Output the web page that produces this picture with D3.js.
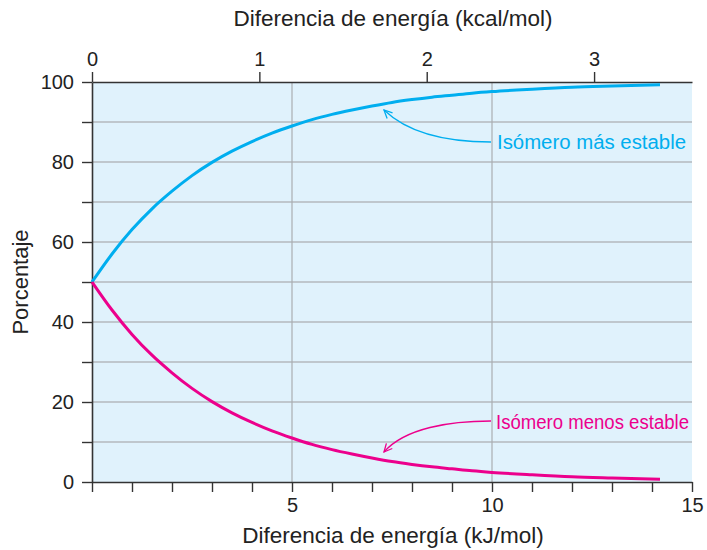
<!DOCTYPE html>
<html>
<head>
<meta charset="utf-8">
<script src="https://cdn.jsdelivr.net/npm/d3@7"></script>
<style>
  html, body { margin: 0; padding: 0; background: #ffffff; }
  svg { display: block; font-family: "Liberation Sans", Arial, sans-serif; }
</style>
</head>
<body>
<svg id="chart" width="707" height="550"></svg>
<script>
// ---- data ----
const energyKJ = [0, 0.5, 1, 1.5, 2, 2.5, 3, 3.5, 4, 4.5, 5, 5.5, 6, 6.5, 7, 7.5, 8, 8.5, 9, 9.5, 10, 11, 12, 13, 14.2];
const masEstable = [50, 57.0, 63.1, 68.3, 72.7, 76.6, 79.9, 82.7, 85.1, 87.2, 89.0, 90.6, 91.9, 93.0, 94.0, 94.9, 95.6, 96.2, 96.7, 97.2, 97.6, 98.2, 98.7, 99.0, 99.3];
const menosEstable = [50, 43.0, 36.9, 31.7, 27.3, 23.4, 20.1, 17.3, 14.9, 12.8, 11.0, 9.4, 8.1, 7.0, 6.0, 5.1, 4.4, 3.8, 3.3, 2.8, 2.4, 1.8, 1.3, 1.0, 0.7];
const kJTicks = [0, 1, 2, 3, 4, 5, 6, 7, 8, 9, 10, 11, 12, 13, 14, 15];
const kJLabels = [5, 10, 15];
const kcalTicks = [0, 1, 2, 3];
const pctTicks = [0, 10, 20, 30, 40, 50, 60, 70, 80, 90, 100];
const pctLabels = [0, 20, 40, 60, 80, 100];
const vGrid = [5, 10];
const kJperKcal = 4.184;
const seriesNames = ["Isómero más estable", "Isómero menos estable"];
const titleTop = "Diferencia de energía (kcal/mol)";
const titleBottom = "Diferencia de energía (kJ/mol)";
const titleLeft = "Porcentaje";

// ---- layout ----
const L = 92, R = 692, T = 82, B = 482;
const BLUE = "#00aeef", PINK = "#ec008c";

const svg = d3.select("#chart");
const x = d3.scaleLinear().domain([0, 15]).range([L, R]);
const xk = d3.scaleLinear().domain([0, 15 / kJperKcal]).range([L, R]);
const y = d3.scaleLinear().domain([0, 100]).range([B, T]);

// background
svg.append("rect").attr("x", L).attr("y", T).attr("width", R - L).attr("height", B - T)
  .attr("fill", "#e0f2fc");

// horizontal gridlines
svg.append("g").selectAll("line").data(pctTicks.filter(d => d > 0 && d < 100)).join("line")
  .attr("x1", L).attr("x2", R).attr("y1", d => y(d)).attr("y2", d => y(d))
  .attr("stroke", "#b4b9be").attr("stroke-width", 1.6);

// vertical gridlines
svg.append("g").selectAll("line").data(vGrid).join("line")
  .attr("x1", d => x(d)).attr("x2", d => x(d)).attr("y1", T).attr("y2", B)
  .attr("stroke", "#a9adb1").attr("stroke-width", 1.2);

// axes
const axisStyle = g => {
  g.selectAll(".domain").attr("stroke", "#333").attr("stroke-width", 1.6);
  g.selectAll(".tick line").attr("stroke", "#333").attr("stroke-width", 1.4);
  g.selectAll(".tick text").attr("fill", "#222").style("font-size", "20px")
    .style("font-family", "'Liberation Sans', Arial, sans-serif");
};

svg.append("g").attr("transform", `translate(0,${B})`)
  .call(d3.axisBottom(x).tickValues(kJTicks).tickSize(10).tickSizeOuter(0).tickPadding(6)
    .tickFormat(d => kJLabels.includes(d) ? d : ""))
  .call(axisStyle);

svg.append("g").attr("transform", `translate(0,${T})`)
  .call(d3.axisTop(xk).tickValues(kcalTicks).tickSize(10).tickSizeOuter(0).tickPadding(6)
    .tickFormat(d3.format("d")))
  .call(axisStyle);

svg.append("g").attr("transform", `translate(${L},0)`)
  .call(d3.axisLeft(y).tickValues(pctTicks).tickSize(10).tickSizeOuter(0).tickPadding(8)
    .tickFormat(d => pctLabels.includes(d) ? d : ""))
  .call(axisStyle);

// curves
const pts = vals => energyKJ.map((e, i) => [e, vals[i]]);
const line = d3.line().x(d => x(d[0])).y(d => y(d[1])).curve(d3.curveMonotoneX);
svg.append("path").attr("d", line(pts(masEstable))).attr("fill", "none")
  .attr("stroke", BLUE).attr("stroke-width", 3);
svg.append("path").attr("d", line(pts(menosEstable))).attr("fill", "none")
  .attr("stroke", PINK).attr("stroke-width", 3);

// annotations with curved arrows
function arrow(color, p0, c1, c2, p1) {
  svg.append("path")
    .attr("d", `M${p0[0]},${p0[1]} C${c1[0]},${c1[1]} ${c2[0]},${c2[1]} ${p1[0]},${p1[1]}`)
    .attr("fill", "none").attr("stroke", color).attr("stroke-width", 1.3);
  const ang = Math.atan2(p1[1] - c2[1], p1[0] - c2[0]);
  const len = 9, spread = 0.45;
  const a1 = [p1[0] - len * Math.cos(ang - spread), p1[1] - len * Math.sin(ang - spread)];
  const a2 = [p1[0] - len * Math.cos(ang + spread), p1[1] - len * Math.sin(ang + spread)];
  svg.append("path")
    .attr("d", `M${a1[0]},${a1[1]} L${p1[0]},${p1[1]} L${a2[0]},${a2[1]}`)
    .attr("fill", "none").attr("stroke", color).attr("stroke-width", 1.3);
}
arrow(BLUE, [491, 142], [450, 142], [410, 135], [384, 110]);
arrow(PINK, [491, 421], [450, 421], [405, 428], [384, 452]);

svg.append("text").attr("x", 497).attr("y", 149).attr("fill", BLUE)
  .attr("textLength", 189).attr("lengthAdjust", "spacingAndGlyphs")
  .style("font-size", "20px").text(seriesNames[0]);
svg.append("text").attr("x", 496).attr("y", 429).attr("fill", PINK)
  .attr("textLength", 193).attr("lengthAdjust", "spacingAndGlyphs")
  .style("font-size", "20px").text(seriesNames[1]);

// axis titles
svg.append("text").attr("x", 393).attr("y", 26).attr("text-anchor", "middle")
  .attr("fill", "#222").style("font-size", "22.5px").text(titleTop);
svg.append("text").attr("x", 393).attr("y", 543).attr("text-anchor", "middle")
  .attr("fill", "#222").style("font-size", "22.5px").text(titleBottom);
svg.append("text").attr("transform", "translate(28,282) rotate(-90)").attr("text-anchor", "middle")
  .attr("fill", "#222").style("font-size", "22px").text(titleLeft);
</script>
</body>
</html>
